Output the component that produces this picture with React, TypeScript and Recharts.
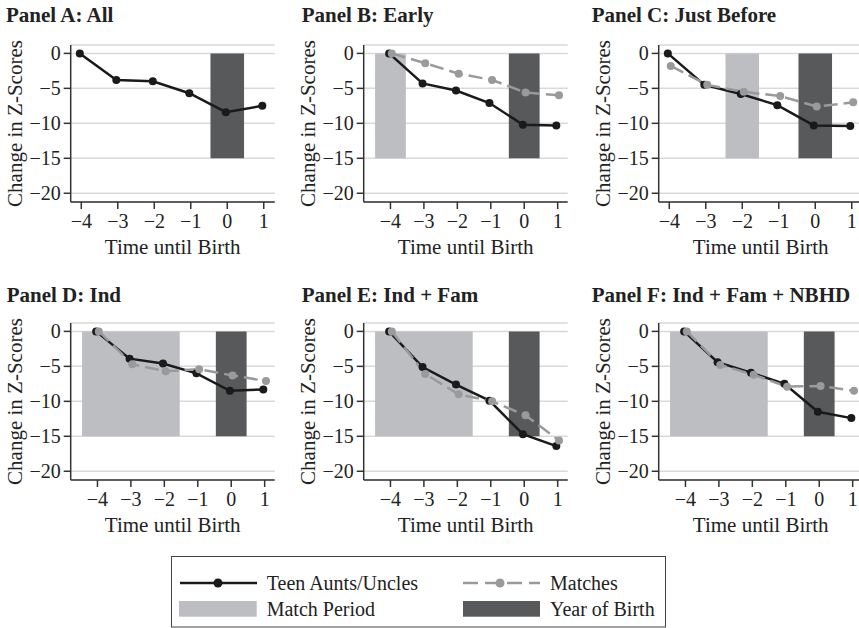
import {
  ComposedChart,
  Line,
  XAxis,
  YAxis,
  CartesianGrid,
  ReferenceArea,
} from 'recharts'

const FONT = '"Liberation Serif", "Times New Roman", Times, serif'

// years relative to birth
const years = [-4, -3, -2, -1, 0, 1]
const yTicks = [0, -5, -10, -15, -20]

const titles = [
  'Panel A: All',
  'Panel B: Early',
  'Panel C: Just Before',
  'Panel D: Ind',
  'Panel E: Ind + Fam',
  'Panel F: Ind + Fam + NBHD',
]

// change in z-scores, teen aunts/uncles
const teenA = [0, -3.8, -4.0, -5.7, -8.4, -7.5]
const teenB = [0, -4.3, -5.3, -7.1, -10.2, -10.3]
const teenC = [0, -4.5, -5.8, -7.4, -10.3, -10.4]
const teenD = [0, -3.9, -4.6, -6.0, -8.5, -8.3]
const teenE = [0, -5.1, -7.6, -9.9, -14.7, -16.4]
const teenF = [0, -4.4, -5.9, -7.5, -11.5, -12.4]

// change in z-scores, matches
const matchB = [0, -1.4, -2.9, -3.8, -5.6, -6.0]
const matchC = [-1.8, -4.5, -5.5, -6.1, -7.6, -7.0]
const matchD = [0, -4.7, -5.7, -5.4, -6.3, -7.1]
const matchE = [0, -6.1, -9.0, -10.0, -12.0, -15.6]
const matchF = [0, -4.8, -6.2, -7.9, -7.8, -8.5]

// match period [first, last] year, null = none
const matchPeriods: ([number, number] | null)[] = [
  null,
  [-4, -4],
  [-2, -2],
  [-4, -2],
  [-4, -2],
  [-4, -2],
]
const birthYear = 0
const barTop = 0
const barBottom = -15

const teenSeries = [teenA, teenB, teenC, teenD, teenE, teenF]
const matchSeries = [null, matchB, matchC, matchD, matchE, matchF]

// layout (page px)
const layout = [
  { ox: 0, oy: 0, tx: 6, ty: 5, dom: [-4.29, 1.3] },
  { ox: 293.3, oy: 0, tx: 301.7, ty: 5, dom: [-4.8, 1.3] },
  { ox: 588.3, oy: 0, tx: 591.7, ty: 5, dom: [-4.29, 1.3] },
  { ox: 0, oy: 278.4, tx: 6.7, ty: 285, dom: [-4.8, 1.3] },
  { ox: 293.3, oy: 278.4, tx: 301.7, ty: 285, dom: [-4.8, 1.3] },
  { ox: 588.3, oy: 278.4, tx: 591.7, ty: 285, dom: [-4.8, 1.3] },
]

const BAR_HALF = 0.46
const SHIFT = 0.04
const LIGHT = '#bdbec2'
const DARK = '#58595b'
const GRAY = '#999a9c'
const BLACK = '#1a1a1a'

const fmt = (v: number) => (v < 0 ? `\u2212${Math.abs(v)}` : `${v}`)

function Panel({ i }: { i: number }) {
  const L = layout[i]
  const teen = years.map((t, k) => ({ x: t - SHIFT, y: teenSeries[i][k] }))
  const m = matchSeries[i]
  const match = m ? years.map((t, k) => ({ x: t + SHIFT, y: m[k] })) : null
  const mp = matchPeriods[i]
  const axisStyle = { stroke: '#333', strokeWidth: 1.5 }
  const tick = { fill: '#222', fontSize: 20, fontFamily: FONT }

  return (
    <div style={{ position: 'absolute', left: L.ox, top: L.oy }}>
      <ComposedChart
        width={290}
        height={262}
        margin={{ top: 45, right: 15.3, bottom: 0, left: 26.7 }}
      >
        <CartesianGrid vertical={false} stroke="#d9d9d9" strokeWidth={1.5} />
        <XAxis
          type="number"
          dataKey="x"
          domain={L.dom}
          ticks={years}
          interval={0}
          allowDataOverflow
          height={60}
          tickSize={7}
          tickMargin={5}
          tick={tick}
          tickFormatter={fmt}
          axisLine={axisStyle}
          tickLine={axisStyle}
          label={{
            value: 'Time until Birth',
            position: 'insideBottom',
            offset: 8,
            fill: '#222',
            fontSize: 21,
            fontFamily: FONT,
          }}
        />
        <YAxis
          type="number"
          domain={[-21.25, 1.2]}
          ticks={yTicks}
          interval={0}
          allowDataOverflow
          width={44}
          tickSize={7}
          tickMargin={3}
          tick={tick}
          tickFormatter={fmt}
          axisLine={axisStyle}
          tickLine={axisStyle}
          label={{
            value: 'Change in Z-Scores',
            angle: -90,
            position: 'insideLeft',
            offset: -11.7,
            fill: '#222',
            fontSize: 21,
            fontFamily: FONT,
            style: { textAnchor: 'middle' },
          }}
        />
        {mp && (
          <ReferenceArea
            x1={mp[0] - BAR_HALF}
            x2={mp[1] + BAR_HALF}
            y1={barBottom}
            y2={barTop}
            fill={LIGHT}
            fillOpacity={1}
            stroke="none"
          />
        )}
        <ReferenceArea
          x1={birthYear - BAR_HALF}
          x2={birthYear + BAR_HALF}
          y1={barBottom}
          y2={barTop}
          fill={DARK}
          fillOpacity={1}
          stroke="none"
        />
        <Line
          data={teen}
          dataKey="y"
          stroke={BLACK}
          strokeWidth={2.5}
          dot={{ r: 4, fill: BLACK, stroke: 'none' }}
          isAnimationActive={false}
        />
        {match && (
          <Line
            data={match}
            dataKey="y"
            stroke={GRAY}
            strokeWidth={2.5}
            strokeDasharray="14 6"
            dot={{ r: 4, fill: GRAY, stroke: 'none', strokeDasharray: '' }}
            isAnimationActive={false}
          />
        )}
      </ComposedChart>
      <div
        style={{
          position: 'absolute',
          left: L.tx - L.ox,
          top: L.ty - L.oy,
          fontFamily: FONT,
          fontWeight: 'bold',
          fontSize: 21,
          lineHeight: 1,
          color: '#222',
          whiteSpace: 'nowrap',
        }}
      >
        {titles[i]}
      </div>
    </div>
  )
}

function Legend() {
  const txt = { fontFamily: FONT, fontSize: 20, fill: '#222' }
  return (
    <svg
      width={496}
      height={72}
      style={{ position: 'absolute', left: 171, top: 556 }}
    >
      <rect x={0.5} y={0.5} width={494} height={70.5} fill="#fff" stroke="#444" strokeWidth={1} />
      <line x1={9} x2={86} y1={27} y2={27} stroke={BLACK} strokeWidth={2.5} />
      <circle cx={47} cy={27} r={4.5} fill={BLACK} />
      <text x={95.7} y={27} dominantBaseline="central" {...txt}>
        Teen Aunts/Uncles
      </text>
      <line x1={292} x2={369} y1={27} y2={27} stroke={GRAY} strokeWidth={2.5} strokeDasharray="15 7" />
      <circle cx={329} cy={27} r={4.5} fill={GRAY} />
      <text x={379} y={27} dominantBaseline="central" {...txt}>
        Matches
      </text>
      <rect x={8} y={45} width={77.7} height={15.7} fill={LIGHT} />
      <text x={95.7} y={53} dominantBaseline="central" {...txt}>
        Match Period
      </text>
      <rect x={292} y={45} width={77} height={15.7} fill={DARK} />
      <text x={379} y={53} dominantBaseline="central" {...txt}>
        Year of Birth
      </text>
    </svg>
  )
}

export default function App() {
  return (
    <div
      style={{
        position: 'absolute',
        left: 0,
        top: 0,
        width: 859,
        height: 628,
        overflow: 'hidden',
        background: '#fff',
      }}
    >
      {titles.map((_, i) => (
        <Panel key={i} i={i} />
      ))}
      <Legend />
    </div>
  )
}
